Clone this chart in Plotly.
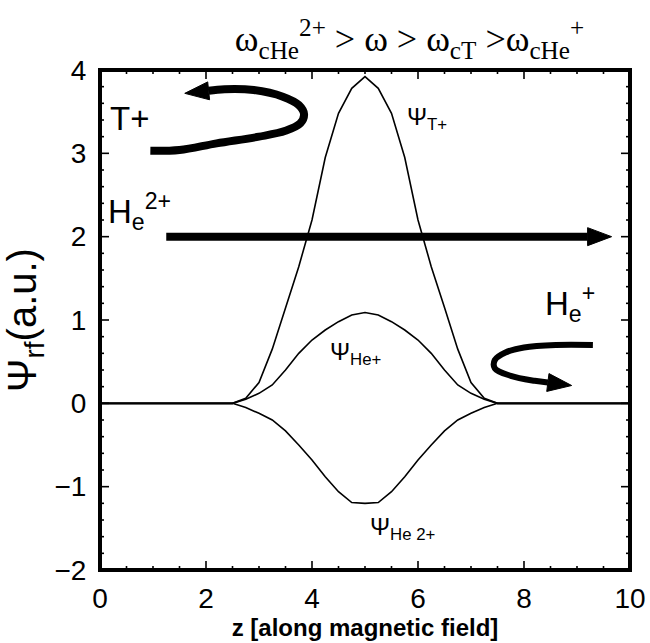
import math
import plotly.graph_objects as go

# ---- data ----
z = [0.0, 2.5, 2.75, 3.0, 3.25, 3.5, 3.75, 4.0, 4.25, 4.5, 4.75, 5.0,
     5.25, 5.5, 5.75, 6.0, 6.25, 6.5, 6.75, 7.0, 7.25, 7.5, 10.0]
psi_T = [0.0, 0.0, 0.06, 0.25, 0.65, 1.15, 1.64, 2.2, 2.95, 3.48, 3.78, 3.92,
         3.78, 3.48, 2.95, 2.2, 1.64, 1.15, 0.65, 0.25, 0.06, 0.0, 0.0]
psi_Hep = [0.0, 0.0, 0.05, 0.12, 0.22, 0.4, 0.6, 0.76, 0.88, 0.98, 1.06, 1.09,
           1.06, 0.98, 0.88, 0.76, 0.6, 0.4, 0.22, 0.12, 0.05, 0.0, 0.0]
psi_He2p = [0.0, 0.0, -0.05, -0.12, -0.2, -0.33, -0.5, -0.68, -0.88, -1.06, -1.19, -1.2,
            -1.19, -1.06, -0.88, -0.68, -0.5, -0.33, -0.2, -0.12, -0.05, 0.0, 0.0]

# schematic particle trajectories (data coordinates)
arrow_T_x = [0.95, 1.5, 2.2, 3.0, 3.5, 3.78, 3.85, 3.75, 3.45, 2.9, 2.35, 2.05]
arrow_T_y = [3.03, 3.04, 3.12, 3.2, 3.27, 3.36, 3.47, 3.58, 3.68, 3.76, 3.77, 3.75]
arrow_He2_x = [1.25, 9.0, 9.2]
arrow_He2_y = [2.0, 2.0, 2.0]
arrow_He1_x = [9.3, 8.6, 8.0, 7.65, 7.45, 7.45, 7.75, 8.2, 8.45]
arrow_He1_y = [0.7, 0.7, 0.67, 0.61, 0.52, 0.42, 0.33, 0.27, 0.25]

X_RANGE = [0, 10]
Y_RANGE = [-2, 4]
x_tick_vals = [0, 2, 4, 6, 8, 10]
y_tick_vals = [-2, -1, 0, 1, 2, 3, 4]
X_MINOR_PER_MAJOR = 4   # ticks every 0.5
Y_MINOR_PER_MAJOR = 5   # ticks every 0.2

W, H = 650, 643
M = dict(l=100, r=20, t=70, b=73)
PX_X = (W - M["l"] - M["r"]) / (X_RANGE[1] - X_RANGE[0])   # pixels per x unit
PX_Y = (H - M["t"] - M["b"]) / (Y_RANGE[1] - Y_RANGE[0])   # pixels per y unit

fig = go.Figure()
for yv in (psi_T, psi_Hep, psi_He2p):
    fig.add_trace(go.Scatter(x=z, y=yv, mode="lines",
                             line=dict(color="black", width=1.6), showlegend=False))


def head(xs, ys, length=24, half=9):
    """filled arrow head continuing the last segment of a path"""
    dx = (xs[-1] - xs[-2]) * PX_X
    dy = (ys[-1] - ys[-2]) * PX_Y
    n = math.hypot(dx, dy)
    ux, uy = dx / n, dy / n
    bx, by = xs[-1], ys[-1]
    tx, ty = bx + ux * length / PX_X, by + uy * length / PX_Y
    lx, ly = bx - uy * half / PX_X, by + ux * half / PX_Y
    rx, ry = bx + uy * half / PX_X, by - ux * half / PX_Y
    return [lx, tx, rx, lx], [ly, ty, ry, ly]


for ax_, ay_, w in ((arrow_T_x, arrow_T_y, 8), (arrow_He2_x, arrow_He2_y, 8),
                    (arrow_He1_x, arrow_He1_y, 6)):
    fig.add_trace(go.Scatter(x=ax_, y=ay_, mode="lines", line=dict(color="black", width=w),
                             line_shape="spline", showlegend=False))
    hx, hy = head(ax_, ay_)
    fig.add_trace(go.Scatter(x=hx, y=hy, mode="lines", fill="toself", fillcolor="black",
                             line=dict(color="black", width=1), showlegend=False))

lab_font = dict(family="Liberation Sans, Arial", size=33, color="black")
fig.add_annotation(x=0.15, y=3.42, text="T+", showarrow=False, xanchor="left", font=lab_font)
fig.add_annotation(x=0.12, y=2.3, text="H<sub>e</sub><sup>2+</sup>", showarrow=False,
                   xanchor="left", font=lab_font)
fig.add_annotation(x=8.35, y=1.2, text="H<sub>e</sub><sup>+</sup>", showarrow=False,
                   xanchor="left", font=lab_font)

psi_font = dict(family="Liberation Sans, Arial", size=24, color="black")
fig.add_annotation(x=5.75, y=3.42, text="Ψ<sub>T+</sub>", showarrow=False, xanchor="left", font=psi_font)
fig.add_annotation(x=4.3, y=0.6, text="Ψ<sub>He+</sub>", showarrow=False, xanchor="left", font=psi_font)
fig.add_annotation(x=5.05, y=-1.5, text="Ψ<sub>He 2+</sub>", showarrow=False, xanchor="left", font=psi_font)


# ---- frame and inside ticks (as traces on the axes' scales) ----
def minor_of(vals, n_minor):
    minor = []
    for a, b in zip(vals[:-1], vals[1:]):
        for k in range(1, n_minor):
            minor.append(a + (b - a) * k / n_minor)
    return minor


tx, ty = [], []
for vals, L in ((x_tick_vals, 9), (minor_of(x_tick_vals, X_MINOR_PER_MAJOR), 4)):
    for v in vals:
        tx += [v, v, None, v, v, None]
        ty += [Y_RANGE[0], Y_RANGE[0] + L / PX_Y, None, Y_RANGE[1], Y_RANGE[1] - L / PX_Y, None]
for vals, L in ((y_tick_vals, 9), (minor_of(y_tick_vals, Y_MINOR_PER_MAJOR), 4)):
    for v in vals:
        ty += [v, v, None, v, v, None]
        tx += [X_RANGE[0], X_RANGE[0] + L / PX_X, None, X_RANGE[1], X_RANGE[1] - L / PX_X, None]
fig.add_trace(go.Scatter(x=tx, y=ty, mode="lines", line=dict(color="black", width=1.6),
                         showlegend=False))
fig.add_trace(go.Scatter(x=[X_RANGE[0], X_RANGE[1], X_RANGE[1], X_RANGE[0], X_RANGE[0]],
                         y=[Y_RANGE[0], Y_RANGE[0], Y_RANGE[1], Y_RANGE[1], Y_RANGE[0]],
                         mode="lines", line=dict(color="black", width=4),
                         showlegend=False))

tickfont = dict(family="Liberation Sans, Arial", size=28, color="black")

fig.update_layout(
    width=W, height=H,
    margin=M,
    plot_bgcolor="white", paper_bgcolor="white",
    showlegend=False,
    xaxis=dict(range=X_RANGE, tickvals=x_tick_vals, ticks="", ticklabelstandoff=2,
               showline=True, linecolor="black", linewidth=2, mirror=True, automargin=False,
               showgrid=False, zeroline=False, tickfont=tickfont,
               title=dict(text="<b>z [along magnetic field]</b>",
                          font=dict(family="Liberation Sans, Arial", size=24, color="black"),
                          standoff=0)),
    yaxis=dict(range=Y_RANGE, tickvals=y_tick_vals, ticks="", ticklabelstandoff=6,
               showline=True, linecolor="black", linewidth=2, mirror=True, automargin=False,
               showgrid=False, zeroline=False, tickfont=tickfont,
               title=dict(text="Ψ<sub>rf</sub>(a.u.)",
                          font=dict(family="Liberation Sans, Arial", size=40, color="black"),
                          standoff=8)),
    title=dict(text="ω<sub>cHe</sub><sup>2+</sup> > ω > ω<sub>cT</sub> >ω<sub>cHe</sub><sup>+</sup>",
               x=0.63, xanchor="center", y=0.94, yanchor="middle",
               font=dict(family="Liberation Serif, Times New Roman", size=36, color="black")),
)

fig.write_html("out.html")
